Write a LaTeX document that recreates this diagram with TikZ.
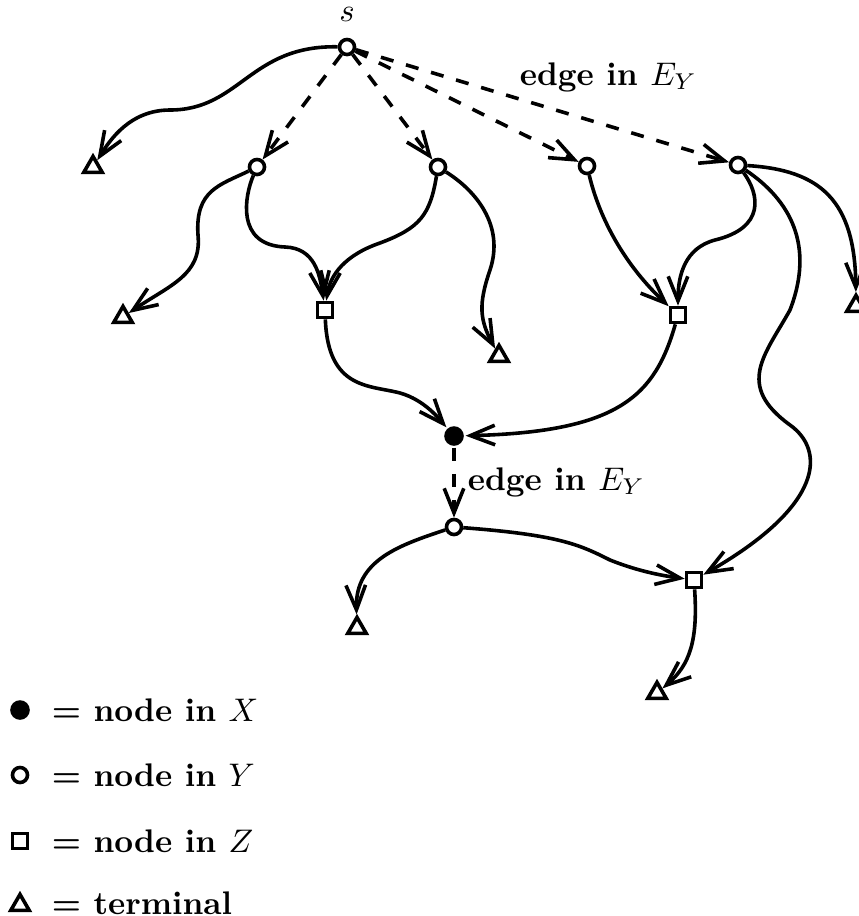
\documentclass[tikz,border=0pt]{standalone}
\usetikzlibrary{arrows.meta,shapes.geometric,positioning}
\begin{document}
\begin{tikzpicture}[
	x=0.306pt, y=-0.306pt, line width=1.1pt,
	>={Straight Barb[length=7.5pt,width=6pt]},
	vertexx/.style={ circle, fill, inner sep=0pt, minimum size=6pt },
	vertexy/.style={ circle, draw, fill=white, inner sep=0pt, minimum size=4.6pt },
	vertexz/.style={ rectangle, draw, fill=white, inner sep=0pt, minimum size=4.6pt },
	vertext/.style={ regular polygon, regular polygon sides=3, draw, inner sep=0pt, minimum size=6.5pt },
	edgey/.style={ ->, dash pattern=on 4pt off 4pt },
	lbl/.style={ font=\bfseries, inner sep=0pt, anchor=west }
]
\useasboundingbox (0,0) rectangle (859,916);

% top level
\node[vertexy] at (347,47) (s) {};
\node[above=1pt of s] (slbl) {$s$};
\node[vertext] at (93,167) (t1) {};
\draw[->] (s) .. controls (250,45) and (240,110) .. (170,110) .. controls (130,110) and (110,140) .. (t1);

\node[vertexy] at (257,167) (y1) {};
\node[vertexy] at (438,167) (y2) {};
\node[vertexy] at (587,166) (y3) {};
\node[vertexy] at (738,165) (y4) {};
\draw[edgey] (s) -- (y1);
\draw[edgey] (s) -- (y2);
\draw[edgey] (s) -- (y3);
\draw[edgey] (s) -- (y4);
\node[lbl] at (518,77) (ey1) {edge in $E_Y$};

% second level
\node[vertext] at (123,317) (t2) {};
\node[vertexz] at (325,310) (z1) {};
\node[vertext] at (499,356) (t3) {};
\node[vertexz] at (678,315) (z2) {};
\node[vertext] at (856,306) (t4) {};

\draw[->] (y1) .. controls (220,185) and (195,190) .. (198,235) .. controls (202,275) and (170,285) .. (t2);
\draw[->] (y1) .. controls (245,195) and (235,245) .. (285,247) .. controls (315,248) and (320,275) .. (z1);
\draw[->] (y2) .. controls (430,215) and (420,228) .. (380,243) .. controls (345,255) and (330,275) .. (z1);
\draw[->] (y2) .. controls (475,190) and (505,225) .. (490,270) .. controls (478,305) and (480,320) .. (t3);
\draw[->] (y3) .. controls (600,220) and (625,265) .. (z2);
\draw[->] (y4) .. controls (760,195) and (765,228) .. (715,240) .. controls (685,248) and (678,275) .. (z2);
\draw[->] (y4) .. controls (820,170) and (855,200) .. (t4);

% X and below
\node[vertexx] at (454,436) (x1) {};
\node[vertexy] at (454,527) (y5) {};
\node[vertexz] at (694,580) (z3) {};
\node[vertext] at (357,628) (t5) {};
\node[vertext] at (657,693) (t6) {};

\draw[->] (z1) .. controls (328,390) and (370,385) .. (400,393) .. controls (425,400) and (440,420) .. (x1);
\draw[->] (z2) .. controls (655,395) and (620,432) .. (x1);
\draw[->] (y4) .. controls (790,200) and (815,245) .. (790,310) .. controls (765,355) and (735,385) .. (790,425) .. controls (825,450) and (825,505) .. (z3);
\draw[edgey] (x1) -- (y5);
\node[lbl] at (466,482) (ey2) {edge in $E_Y$};
\draw[->] (y5) .. controls (400,545) and (355,560) .. (t5);
\draw[->] (y5) .. controls (560,535) and (580,545) .. (610,560) .. controls (640,572) and (665,576) .. (z3);
\draw[->] (z3) .. controls (698,640) and (690,665) .. (t6);

% legend
\node[vertexx] at (20,710) (lx) {};
\node[vertexy] at (20,775) (ly) {};
\node[vertexz] at (20,841) (lz) {};
\node[vertext] at (20,905) (lt) {};
\node[lbl] at (50,710) (lxt) {= node in $X$};
\node[lbl] at (50,775) (lyt) {= node in $Y$};
\node[lbl] at (50,841) (lzt) {= node in $Z$};
\node[lbl] at (50,903) (ltt) {= terminal};

\end{tikzpicture}
\end{document}
